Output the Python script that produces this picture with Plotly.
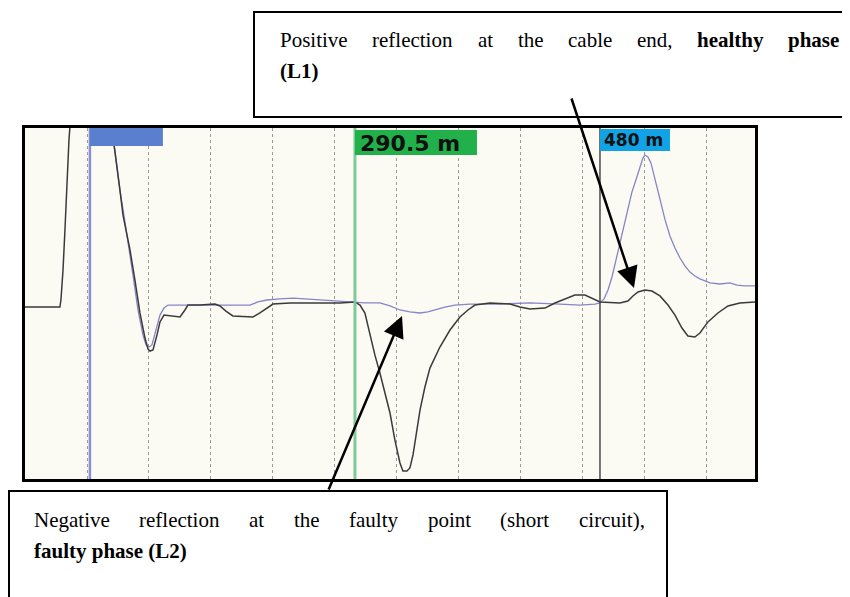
import plotly.graph_objects as go

# page body adds an 8px margin, so the figure is drawn 8px smaller and everything is placed
# relative to the reference's pixel frame through px()/py()
W, H = 850, 597
OX, OY = 8, 8
FW, FH = W - OX, H - OY

# ---------------- data (distance in m, amplitude in % of screen half-height) ----------------
l2_dist = [35.3, 46.9, 62.3, 63.1, 64.7, 66.2, 67.8, 69.3, 71.6, 85.5, 99.5, 102.6, 105.7, 108.7,
           111.1, 114.2, 116.5, 120.3, 124.2, 128.1, 130.4, 132.0, 134.3, 137.4, 139.7, 142.8,
           147.4, 155.2, 159.0, 161.3, 170.6, 182.2, 186.1, 190.7, 196.1, 205.4, 211.6, 217.0,
           222.4, 227.1, 240.2, 263.4, 278.9, 290.5, 294.4, 298.2, 302.1, 305.9, 309.8, 313.7,
           317.6, 321.4, 325.3, 327.6, 330.7, 333.0, 335.4, 338.4, 340.8, 344.6, 348.5, 356.2,
           364.0, 371.7, 377.9, 383.3, 394.9, 410.4, 418.1, 425.8, 437.4, 445.2, 452.9, 460.6,
           468.4, 473.8, 480.0, 495.4, 501.6, 505.5, 509.4, 514.8, 520.2, 526.4, 532.6, 538.0,
           543.4, 548.0, 553.4, 557.3, 563.5, 571.2, 579.0, 588.2, 599.9]
l2_amp = [-2.0, -2.0, -2.0, 2.0, 19.1, 41.9, 70.4, 93.2, 116, 150, 116, 100, 81.8, 64.7,
          50.4, 39.0, 30.5, 13.4, -5.4, -19.7, -25.9, -27.1, -26.5, -17.9, -10.5, -6.6,
          -7.1, -7.7, -3.7, -0.9, -0.9, -0.3, -1.4, -4.3, -7.1, -7.7, -7.7, -5.4,
          -2.6, -0.3, 0.3, 0.3, 0.3, 0.9, -0.9, -5.4, -17.9, -29.3, -39.6, -51.0,
          -62.4, -77.8, -90.9, -95.4, -95.4, -93.7, -86.3, -72.1, -60.7, -47.6, -36.8, -24.8,
          -15.1, -7.7, -3.7, -0.9, 0.3, -0.3, -2.0, -3.1, -2.6, 0.3, 2.6, 4.8,
          4.8, 3.1, 0.9, 0.3, 1.4, 4.3, 6.6, 7.7, 7.1, 4.3, -0.9, -6.6,
          -14.0, -18.5, -19.1, -16.8, -10.5, -5.4, -1.4, 0.3, 0.9]

l1_dist = [97.1, 102.6, 105.7, 108.7, 111.8, 114.9, 118.8, 122.7, 126.5, 128.9, 131.2, 133.5,
           136.6, 139.7, 142.8, 145.9, 155.2, 170.6, 186.1, 201.6, 209.3, 215.5, 222.4, 232.5,
           242.5, 251.8, 263.4, 278.9, 290.5, 298.2, 309.8, 317.6, 325.3, 333.0, 340.8, 346.9,
           352.4, 360.1, 367.8, 379.4, 402.6, 425.8, 449.0, 464.5, 476.1, 480.0, 483.1, 486.2,
           489.3, 492.4, 495.4, 498.5, 501.6, 504.7, 507.8, 510.9, 513.2, 514.8, 517.1, 519.4,
           522.5, 526.4, 530.2, 534.1, 538.0, 541.9, 545.7, 549.6, 553.4, 557.3, 565.1, 572.8,
           580.5, 585.9, 592.1, 599.9]
l1_amp = [116, 100, 81.8, 64.7, 50.4, 36.2, 16.2, -3.7, -17.9, -23.6, -24.8, -23.6,
          -15.1, -6.6, -2.6, -0.9, -0.9, -0.9, -0.9, -0.9, -0.9, 0.9, 2.0, 2.6,
          3.1, 2.6, 2.0, 1.4, 0.9, 0.3, 0.3, -1.4, -3.7, -4.8, -5.4, -4.8,
          -3.7, -2.0, -0.9, -0.3, -0.3, 0.3, -0.3, -0.9, -0.3, 0.3, 2.6, 7.7,
          15.1, 24.8, 34.5, 45.3, 55.0, 63.5, 70.4, 77.8, 82.9, 84.6, 83.5, 80.1,
          71.5, 59.5, 48.1, 38.5, 31.6, 25.9, 21.4, 17.9, 15.7, 14.0, 11.7, 11.1,
          11.7, 10.5, 10.0, 10.0]

cursor_dist = [85.5, 290.5, 480.0]
cursor_text = ["", "290.5 m", "480 m"]

x_range = [35.3, 599.9]
y_range = [-100, 100]
grid_start, grid_step = 35.3, 47.95

top_line1 = ["Positive", "reflection", "at", "the", "cable", "end,", "<b>healthy</b>", "<b>phase</b>"]
top_line2 = "<b>(L1)</b>"
bot_line1 = ["Negative", "reflection", "at", "the", "faulty", "point", "(short", "circuit),"]
bot_line2 = "<b>faulty phase (L2)</b>"

# ---------------- layout helpers ----------------
def px(x):
    return (x - OX) / FW

def py(y):
    return 1 - (y - OY) / FH

M_PER_PX = (x_range[1] - x_range[0]) / (755 - 25)

fig = go.Figure()
fig.add_trace(go.Scatter(x=l1_dist, y=l1_amp, mode="lines",
                         line=dict(color="#8585c8", width=1.3), hoverinfo="skip"))
fig.add_trace(go.Scatter(x=l2_dist, y=l2_amp, mode="lines",
                         line=dict(color="#3a3a3a", width=1.5), hoverinfo="skip"))

shapes = []
cur_styles = [dict(color="#8c8cd4", width=2.5), dict(color="#7fc99a", width=3),
              dict(color="#4a4a4a", width=1.5)]
for d, st in zip(cursor_dist, cur_styles):
    shapes.append(dict(type="line", xref="x", yref="y domain", x0=d, x1=d, y0=0, y1=1,
                       line=st, layer="above"))
box_defs = [  # (px width, top, bottom, color)
    (73, 128, 146, "#5b7fcf"),
    (122, 130, 155, "#22b04b"),
    (70, 129, 151, "#12a3e6"),
]
for d, (wpx, t, b, c) in zip(cursor_dist, box_defs):
    shapes.append(dict(type="rect", xref="x", yref="paper", x0=d, x1=d + wpx * M_PER_PX,
                       y0=py(b), y1=py(t), fillcolor=c, line=dict(width=0), layer="above"))

shapes.append(dict(type="rect", xref="paper", yref="paper", x0=px(254), x1=px(853),
                   y0=py(117), y1=py(12), line=dict(color="black", width=2),
                   fillcolor="rgba(0,0,0,0)"))
shapes.append(dict(type="rect", xref="paper", yref="paper", x0=px(9), x1=px(667),
                   y0=py(603), y1=py(491), line=dict(color="black", width=2),
                   fillcolor="rgba(0,0,0,0)"))

annotations = []
annotations.append(dict(x=cursor_dist[1] + 3 * M_PER_PX, y=py(143), xref="x", yref="paper",
                        text="<b>" + cursor_text[1] + "</b>", showarrow=False, xanchor="left",
                        yanchor="middle", font=dict(family="DejaVu Sans", size=22, color="#111")))
annotations.append(dict(x=cursor_dist[2] + 2 * M_PER_PX, y=py(140), xref="x", yref="paper",
                        text="<b>" + cursor_text[2] + "</b>", showarrow=False, xanchor="left",
                        yanchor="middle", font=dict(family="DejaVu Sans", size=17, color="#111")))

serif = dict(family="Liberation Serif", size=21, color="black")
top_x = [278, 370.4, 475.6, 515.5, 565.9, 634.9, 695.2, 786.4]
for wd, xx in zip(top_line1, top_x):
    annotations.append(dict(x=px(xx), y=py(40), xref="paper", yref="paper", text=wd,
                            showarrow=False, xanchor="left", yanchor="middle", font=serif))
annotations.append(dict(x=px(278), y=py(71), xref="paper", yref="paper", text=top_line2,
                        showarrow=False, xanchor="left", yanchor="middle", font=serif))
bot_x = [32, 137.3, 247.3, 292, 347.2, 425.7, 498.4, 576.9]
for wd, xx in zip(bot_line1, bot_x):
    annotations.append(dict(x=px(xx), y=py(520), xref="paper", yref="paper", text=wd,
                            showarrow=False, xanchor="left", yanchor="middle", font=serif))
annotations.append(dict(x=px(32), y=py(551), xref="paper", yref="paper", text=bot_line2,
                        showarrow=False, xanchor="left", yanchor="middle", font=serif))

annotations.append(dict(x=px(634), y=py(288), xref="paper", yref="paper", text="",
                        showarrow=True, arrowhead=2, arrowsize=1.7, arrowwidth=2.5,
                        arrowcolor="black", ax=571 - 634, ay=97 - 288, standoff=0))
annotations.append(dict(x=px(402), y=py(316), xref="paper", yref="paper", text="",
                        showarrow=True, arrowhead=2, arrowsize=1.7, arrowwidth=2.5,
                        arrowcolor="black", ax=328 - 402, ay=491 - 316, standoff=0))

fig.update_layout(
    width=FW, height=FH, margin=dict(l=0, r=0, t=0, b=0),
    paper_bgcolor="white", plot_bgcolor="#fbfbf3", showlegend=False,
    shapes=shapes, annotations=annotations,
    xaxis=dict(domain=[px(25), px(755)], range=x_range, showticklabels=False, ticks="",
               showgrid=True, gridcolor="#9a9a9a", griddash="dot", gridwidth=1,
               tick0=grid_start, dtick=grid_step, zeroline=False,
               showline=True, mirror=True, linecolor="black", linewidth=3),
    yaxis=dict(domain=[py(479), py(128)], range=y_range, showticklabels=False, ticks="",
               showgrid=False, zeroline=False,
               showline=True, mirror=True, linecolor="black", linewidth=3),
)

fig.write_html("out.html")
